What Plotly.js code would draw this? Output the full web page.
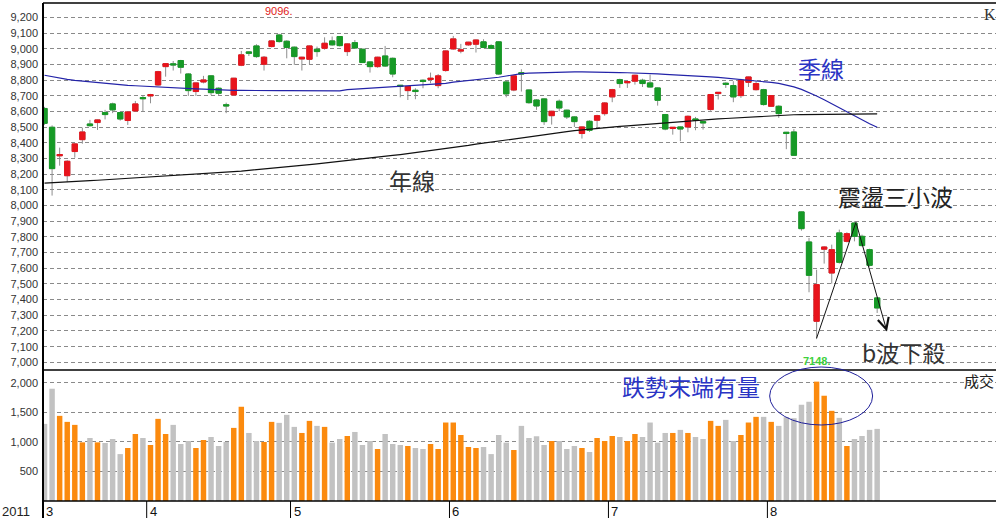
<!DOCTYPE html>
<html><head><meta charset="utf-8">
<script src="https://cdn.plot.ly/plotly-3.0.1.min.js"></script>
<style>html,body{margin:0;padding:0;background:#fff;}#chart{width:996px;height:518px;}</style>
</head><body><div id="chart"></div>
<script>
// ---- data (TAIEX daily, 2011-03 .. 2011-08) ----
const open = [8620,8500,8318,8191,8345,8421,8521,8530,8594,8649,
8594,8543,8604,8690,8700,8770,8887,8905,8926,8840,
8728,8789,8828,8749,8644,8706,8896,8981,9019,8902,
9015,9089,9049,9011,8936,8934,8998,9004,9051,9079,
8983,9040,8998,8917,8887,8955,8940,8768,8734,8736,
8800,8805,8766,8862,9000,8986,9026,9030,9045,9021,
9045,8789,8738,8848,8738,8674,8681,8574,8666,8609,
8566,8460,8538,8545,8587,8694,8804,8784,8794,8800,
8783,8751,8581,8492,8502,8502,8553,8536,8613,8715,
8781,8766,8702,8787,8740,8740,8634,8634,8468,8470,
7960,7768,7262,7722,7570,7826,7772,7889,7804,7719,7411];
const high = [8630,8512,8370,8290,8400,8498,8547,8550,8611,8657,
8600,8600,8668,8700,8713,8860,8910,8923,8930,8845,
8785,8828,8830,8755,8657,8815,8987,8985,9030,8955,
9055,9096,9055,9015,8950,9022,9015,9074,9079,9082,
9035,9057,9000,8920,8950,9019,8945,8770,8762,8749,
8805,8849,8840,8990,9083,9032,9045,9060,9062,9030,
9050,8795,8830,8870,8740,8680,8685,8605,8677,8612,
8570,8505,8545,8580,8660,8745,8810,8795,8835,8810,
8836,8755,8585,8500,8505,8575,8566,8538,8712,8723,
8787,8794,8809,8823,8794,8745,8705,8640,8470,8489,
7962,7794,7591,7740,7751,7847,7830,7900,7815,7725,7415];
const low = [8515,8064,8255,8150,8306,8395,8505,8483,8550,8590,
8542,8515,8600,8600,8653,8765,8823,8862,8843,8700,
8700,8780,8705,8700,8590,8700,8890,8955,8943,8862,
9010,9040,8940,8898,8862,8900,8950,8995,9020,9015,
8955,9000,8910,8849,8880,8885,8819,8691,8674,8679,
8749,8781,8749,8855,8995,8972,9020,8977,9005,9000,
8835,8691,8730,8728,8650,8611,8515,8517,8602,8553,
8502,8428,8470,8502,8574,8660,8751,8751,8772,8757,
8755,8638,8481,8453,8411,8468,8481,8485,8605,8677,
8751,8660,8687,8757,8735,8638,8630,8560,8360,8320,
7840,7447,7148,7630,7502,7630,7765,7772,7740,7610,7315];
const close = [8525,8236,8326,8283,8394,8470,8510,8547,8581,8611,
8553,8598,8649,8682,8708,8855,8906,8898,8883,8734,
8783,8802,8721,8717,8636,8813,8962,8972,8951,8947,
9051,9047,9009,8951,8947,9019,8983,9036,9026,9021,
9032,9006,8913,8887,8947,8891,8840,8760,8760,8728,
8792,8813,8828,8987,9064,8994,9043,9057,9009,9004,
8840,8713,8828,8840,8657,8636,8536,8602,8623,8566,
8536,8502,8481,8574,8655,8740,8779,8792,8832,8779,
8757,8672,8489,8500,8489,8570,8545,8528,8709,8723,
8774,8694,8800,8821,8779,8645,8702,8587,8460,8321,
7853,7555,7496,7736,7719,7638,7821,7804,7745,7619,7347];
const volume = [1307,1903,1443,1341,1290,994,1068,994,983,1051,
795,898,1136,1068,949,1392,1136,1290,966,1017,
898,1034,1085,932,1000,1239,1597,1153,1017,1000,
1341,1324,1460,1256,1153,1358,1273,1256,989,1051,
1102,1170,949,1017,881,1136,966,949,932,898,
881,966,881,1330,1330,1119,915,898,915,795,
1119,989,864,1273,1068,1097,949,1017,1017,881,
932,898,830,1068,1017,1102,1085,1017,1136,1085,
1330,989,1153,1153,1205,1153,1085,1051,1358,1273,
1375,1017,1119,1330,1426,1426,1341,1273,1420,1403,
1631,1682,2023,1784,1528,1409,932,1051,1102,1205,1222];
const maQuarter = [8832,8822,8813,8806,8799,8794,8790,8786,8780,8774,
8769,8767,8765,8762,8759,8756,8754,8752,8750,8747,
8745,8743,8740,8737,8736,8735,8735,8734,8734,8734,
8734,8734,8734,8734,8733,8732,8731,8730,8730,8732,
8740,8743,8745,8747,8750,8752,8756,8760,8763,8766,
8770,8773,8776,8780,8788,8793,8797,8801,8806,8812,
8819,8827,8836,8842,8845,8847,8849,8850,8851,8852,
8853,8853,8853,8852,8851,8850,8849,8848,8847,8845,
8843,8841,8838,8836,8833,8830,8828,8826,8822,8818,
8814,8809,8804,8800,8795,8791,8786,8780,8770,8758,
8742,8722,8700,8676,8650,8622,8595,8570,8545,8522,8500];
const maYear = [8143,8145,8148,8150,8153,8156,8159,8162,8165,8167,
8170,8172,8175,8177,8180,8183,8186,8189,8192,8195,
8198,8201,8204,8207,8211,8215,8220,8225,8229,8233,
8237,8241,8246,8251,8256,8261,8266,8271,8276,8281,
8286,8291,8296,8302,8308,8314,8320,8326,8332,8338,
8344,8350,8356,8362,8368,8376,8384,8392,8399,8406,
8413,8420,8427,8434,8441,8448,8455,8461,8467,8472,
8478,8483,8489,8494,8498,8502,8506,8509,8513,8517,
8520,8524,8528,8532,8536,8539,8542,8546,8549,8553,
8556,8559,8562,8565,8568,8571,8574,8577,8579,8580,
8581,8582,8582,8583,8583,8584,8584,8585,8585,8585,8586];
const monthLabels = ['3','4','5','6','7','8'];
const monthStart = [0,14,33,54,75,96];
const volumeTicks = [500,1000,1500,2000];
const yearLabel = '2011';
const highIdx = 31, lowIdx = 102;

// ---- layout helpers ----
const W=996,H=518,ML=43,MR=0,MT=3,MB=17;
const PW=W-ML-MR, PH=H-MT-MB;
const px = x => (x-ML)/PW, py = y => (H-MB-y)/PH;
const SPLIT = py(370);
const RED='#e8141c', GREEN='#169a26', ORANGE='#fb8a0e', GRAY='#c2c2c2';
const CJK='Noto Sans CJK TC, Noto Sans CJK SC, sans-serif';
const SANS='Liberation Sans, Arial, sans-serif';

const idx = open.map((_,i)=>i);
const bodyHigh = open.map((o,i)=>Math.max(o,close[i]));
const bodyLow = open.map((o,i)=>Math.min(o,close[i]));
const volColors = open.map((o,i)=> close[i]>=o ? ORANGE : GRAY);

const traces = [
 {type:'candlestick', x:idx, open:open, high:high, low:low, close:close, xaxis:'x', yaxis:'y',
  increasing:{line:{color:'#8e8e8e',width:1}, fillcolor:'rgba(0,0,0,0)'},
  decreasing:{line:{color:'#8e8e8e',width:1}, fillcolor:'rgba(0,0,0,0)'},
  whiskerwidth:0, hoverinfo:'skip', showlegend:false},
 {type:'candlestick', x:idx, open:open, high:bodyHigh, low:bodyLow, close:close, xaxis:'x', yaxis:'y',
  increasing:{line:{color:RED,width:1}, fillcolor:RED},
  decreasing:{line:{color:GREEN,width:1}, fillcolor:GREEN},
  whiskerwidth:0, hoverinfo:'skip', showlegend:false},
 {type:'scatter', mode:'lines', x:idx, y:maQuarter, xaxis:'x', yaxis:'y',
  line:{color:'#2323a8', width:1.2}, hoverinfo:'skip', showlegend:false},
 {type:'scatter', mode:'lines', x:idx, y:maYear, xaxis:'x', yaxis:'y',
  line:{color:'#111111', width:1.2}, hoverinfo:'skip', showlegend:false},
 {type:'bar', x:idx, y:volume, xaxis:'x', yaxis:'y2', width:0.72,
  marker:{color:volColors, line:{width:0}}, hoverinfo:'skip', showlegend:false}
];

const shapes = [
 {type:'line', xref:'paper', yref:'paper', x0:0, x1:1, y0:1, y1:1, line:{color:'#000',width:1.5}},
 {type:'line', xref:'paper', yref:'paper', x0:0, x1:1, y0:SPLIT, y1:SPLIT, line:{color:'#000',width:1.5}},
 {type:'line', xref:'paper', yref:'paper', x0:0, x1:1, y0:0, y1:0, line:{color:'#000',width:1.5}},
 {type:'line', xref:'paper', yref:'paper', x0:0, x1:0, y0:py(518), y1:1, line:{color:'#000',width:2}},
 // analyst marks
 {type:'line', xref:'x', yref:'y', x0:102.0, y0:7154, x1:107.2, y1:7894, line:{color:'#111',width:1}},
 {type:'circle', xref:'x', yref:'paper', x0:95.8, x1:109.4, y0:py(425), y1:py(367), line:{color:'#1f1f9a',width:1}}
];
monthStart.forEach((m,i)=>{ if(i>0) shapes.push({type:'line', xref:'x', yref:'paper', x0:m-0.5, x1:m-0.5, y0:0, y1:py(518), line:{color:'#000',width:1}}); });

function note(x, y, text, font, extra){
  return Object.assign({xref:'paper',yref:'paper',x:px(x),y:py(y),xanchor:'center',yanchor:'middle',
    text:text,showarrow:false,font:font}, extra||{});
}
const annotations = [
 note(821,68,'季線',{family:CJK,size:23,color:'#2a34c4'}),
 note(412,180,'年線',{family:CJK,size:23,color:'#333'}),
 note(895,196,'震盪三小波',{family:CJK,size:23,color:'#222'}),
 note(903,352,'b波下殺',{family:CJK,size:23,color:'#333'}),
 note(691,386,'跌勢末端有量',{family:CJK,size:23,color:'#2a34c4'}),
 note(990,14,'K',{family:'Liberation Serif, serif',size:16,color:'#333'}),
 note(962,380,'成交',{family:CJK,size:15,color:'#222'},{xanchor:'left'}),
 note(0,502,yearLabel,{family:SANS,size:13,color:'#222'},{xanchor:'left',yanchor:'top'}),
 {xref:'x',yref:'y',x:highIdx,y:high[highIdx],xanchor:'center',yanchor:'bottom',yshift:15,text:String(high[highIdx])+'.',showarrow:false,font:{family:SANS,size:11,color:'#e01818'}},
 {xref:'x',yref:'y',x:lowIdx,y:low[lowIdx],xanchor:'center',yanchor:'middle',yshift:-22,text:'<b>'+String(low[lowIdx])+'.</b>',showarrow:false,font:{family:SANS,size:11,color:'#3ed13e'}},
 {xref:'x',yref:'y',x:111.3,y:7196,axref:'x',ayref:'y',ax:107.2,ay:7894,text:'',showarrow:true,arrowhead:5,arrowsize:2.2,arrowwidth:1,arrowcolor:'#111'}
];
monthStart.forEach((m,i)=>{
 annotations.push({xref:'x',yref:'paper',x:i===0?-0.2:m-0.5,y:py(502),xanchor:'left',yanchor:'top',xshift:1,
   text:monthLabels[i],showarrow:false,font:{family:SANS,size:13,color:'#111'}});
});

const layout = {
 width:W, height:H, margin:{l:ML,r:MR,t:MT,b:MB,pad:0},
 paper_bgcolor:'#fff', plot_bgcolor:'#fff', showlegend:false, hovermode:false,
 boxgap:0.3, boxgroupgap:0, boxmode:'overlay',
 xaxis:{domain:[0,1], anchor:'y2', range:[-0.2,125.7], showgrid:false, zeroline:false,
   showticklabels:false, ticks:'', showline:false, rangeslider:{visible:false}},
 yaxis:{domain:[SPLIT,1], anchor:'x', range:[6951,9293], tick0:7000, dtick:100, tickformat:',d',
   showgrid:true, gridcolor:'#8a8a8a', griddash:'4px,3px', gridwidth:1, zeroline:false, showline:false,
   ticks:'', ticklabelstandoff:4, tickfont:{family:SANS,size:11,color:'#333'}},
 yaxis2:{domain:[0,SPLIT], anchor:'x', range:[0,2220], tickvals:volumeTicks, tickformat:',d',
   showgrid:true, gridcolor:'#8a8a8a', griddash:'4px,3px', gridwidth:1, zeroline:false, showline:false,
   ticks:'', ticklabelstandoff:4, tickfont:{family:SANS,size:11,color:'#333'}},
 shapes:shapes, annotations:annotations
};

Plotly.newPlot('chart', traces, layout, {staticPlot:true, displayModeBar:false});
</script>
</body></html>
